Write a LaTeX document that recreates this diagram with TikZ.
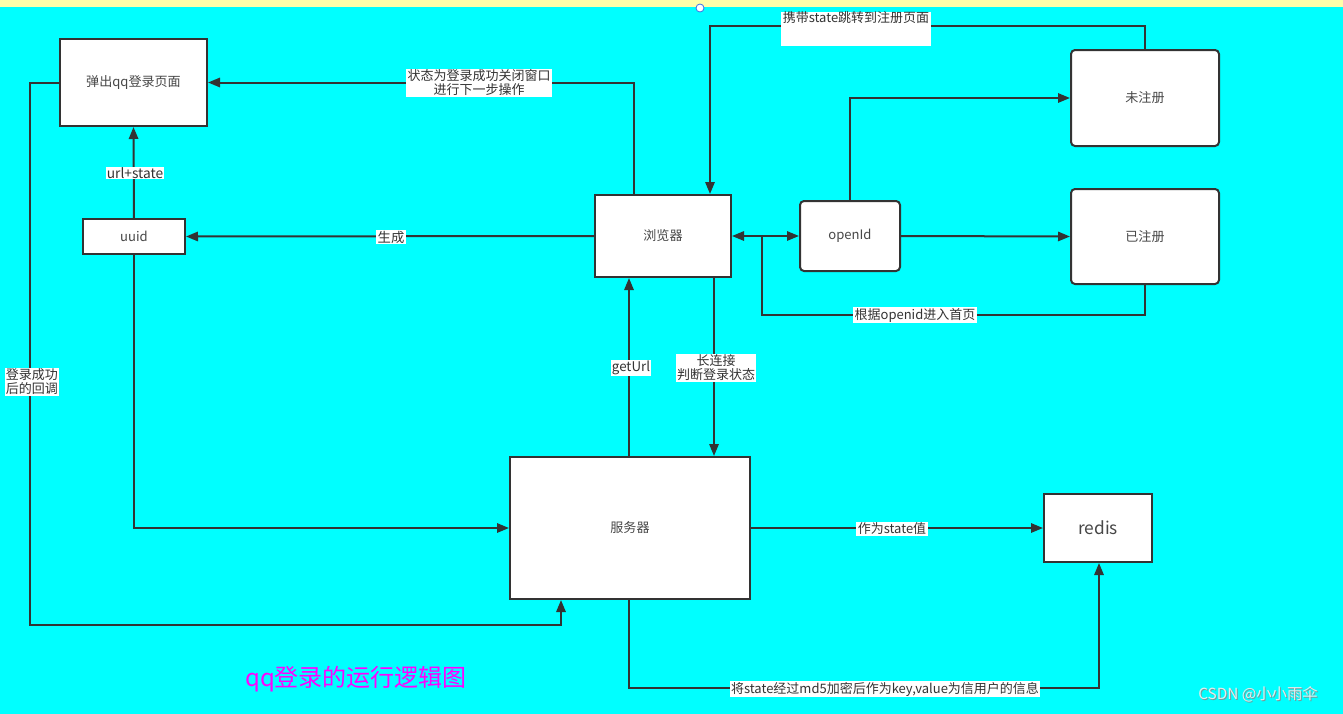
\documentclass[tikz,border=0pt]{standalone}
\usepackage{fontspec}
\setmainfont{Noto Sans CJK SC}
\usetikzlibrary{arrows.meta}
\definecolor{bg}{HTML}{00FFFF}
\definecolor{topbar}{HTML}{FFFFAA}
\definecolor{ln}{HTML}{333333}
\definecolor{ttl}{HTML}{FF00FF}
\definecolor{wm}{HTML}{E4ECEC}
\definecolor{wmshadow}{HTML}{7A9898}
\begin{document}
\begin{tikzpicture}[x=0.75pt,y=-0.75pt,
  box/.style={draw=ln, line width=1.5pt, fill=white, inner sep=0pt, text=ln!90,
    font=\fontsize{9.8}{11}\selectfont},
  rbox/.style={box, rounded corners=3pt},
  sz/.style 2 args={minimum width=#1*0.75pt, minimum height=#2*0.75pt},
  conn/.style={draw=ln, line width=1.5pt},
  arr/.style={conn, -{Triangle[length=9pt,width=7pt]}},
  arrb/.style={conn, {Triangle[length=9pt,width=7pt]}-{Triangle[length=9pt,width=7pt]}},
  lbl/.style={fill=white, inner xsep=1pt, inner ysep=0.5pt, text=ln, align=center,
    font=\fontsize{9.75}{10.5}\selectfont},
  wmk/.style={font=\fontsize{11.5}{13}\selectfont}
]
\useasboundingbox (0,0) rectangle (1343,714);
\fill[bg] (0,0) rectangle (1343,714);
\fill[topbar] (0,0) rectangle (1343,7);
\draw[draw={rgb,255:red,60;green,110;blue,230}, fill=white, line width=0.6pt] (700,8) circle [radius=3pt];

% nodes
\node[box, sz={147}{87}] (qq) at (133.5,82.5) {弹出qq登录页面};
\node[box, sz={102}{35}] (uuid) at (134,236.5) {uuid};
\node[box, sz={136}{82}] (br) at (663,236) {浏览器};
\node[rbox, sz={100}{70}] (oid) at (850,236) {openId};
\node[rbox, sz={148}{96}] (wzc) at (1145,98) {未注册};
\node[rbox, sz={148}{95}] (yzc) at (1145,236.5) {已注册};
\node[box, sz={240}{142}] (srv) at (630,528) {服务器};
\node[box, sz={108}{68}, font=\fontsize{13}{15}\selectfont] (redis) at (1098,528) {redis};

% connectors
\draw[arr] (634,0 |- br.north) |- (qq.east);
\node[lbl] (l1) at (479,83) {状态为登录成功关闭窗口\\进行下一步操作};

\draw[arr] (wzc.north) |- (710,26) -- (br.north -| 710,0);
\node[lbl, anchor=north, text height=7.5pt, text depth=17pt, minimum width=112pt] (l2) at (856,12) {携带state跳转到注册页面};

\draw[arr] (oid.north) |- (wzc.west);
\draw[arr] (oid.east) -- (yzc.west);
\draw[conn] (yzc.south) |- (762,315) -- (762,236);
\node[lbl] (l3) at (915,315) {根据openid进入首页};

\draw[arrb] (br.east) -- (oid.west);

\draw[arr] (br.west) -- (uuid.east);
\node[lbl, font=\fontsize{10}{11}\selectfont] (l4) at (391,237) {生成};

\draw[arr] (uuid.north) -- (qq.south);
\node[lbl, font=\fontsize{10.3}{11}\selectfont] (l5) at (135,173) {url+state};

\draw[arr] (uuid.south) |- (srv.west);

\draw[arr] (qq.west) -| (30,625) -| (561,0 |- srv.south);
\node[lbl] (l6) at (32,382) {登录成功\\后的回调};

\draw[arr] (629,0 |- srv.north) -- (629,0 |- br.south);
\node[lbl, font=\fontsize{10}{12}\selectfont] (l7) at (631,368) {getUrl};

\draw[arr] (714,0 |- br.south) -- (714,0 |- srv.north);
\node[lbl] (l8) at (716,368) {长连接\\判断登录状态};

\draw[arr] (srv.east) -- (redis.west);
\node[lbl] (l9) at (892,529) {作为state值};

\draw[arr] (629,0 |- srv.south) |- (1099,688) -- (1099,0 |- redis.south);
\node[lbl] (l10) at (885,689) {将state经过md5加密后作为key,value为信用户的信息};

\node[text=ttl, font=\fontsize{18}{21}\selectfont] (title) at (356,679) {qq登录的运行逻辑图};
\node[wmk, text=wmshadow] (wmks) at (1259,695) {CSDN @小小雨伞};
\node[wmk, text=wm] (wmkt) at (1258,694) {CSDN @小小雨伞};
\end{tikzpicture}
\end{document}
